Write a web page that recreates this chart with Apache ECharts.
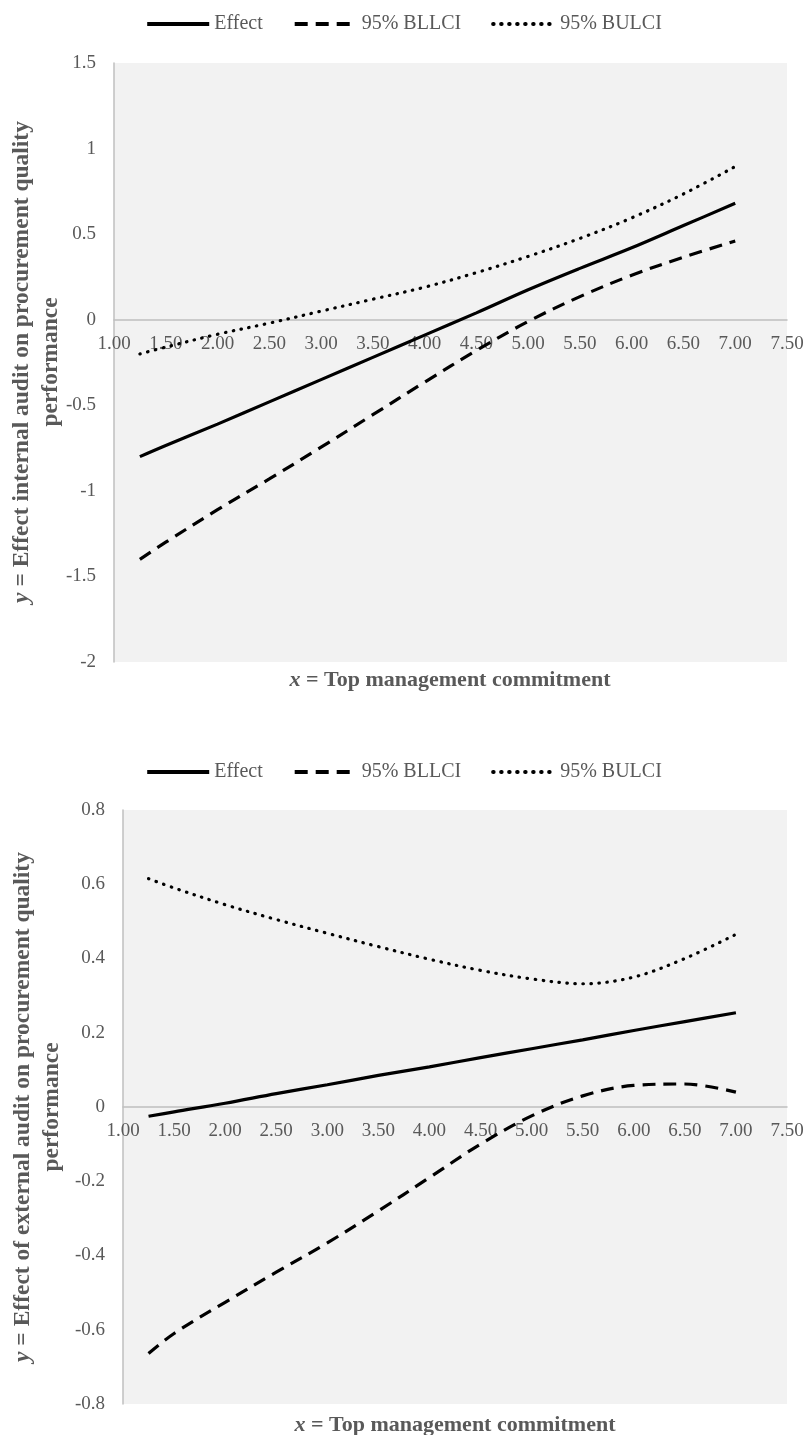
<!DOCTYPE html>
<html>
<head>
<meta charset="utf-8">
<script src="https://cdn.jsdelivr.net/npm/echarts@6/dist/echarts.min.js"></script>
<style>
html,body{margin:0;padding:0;background:#fff;}
#c{width:807px;height:1435px;}
</style>
</head>
<body>
<div id="c"></div>
<script>
// ---- data ----
const xs = [1.25, 1.5, 2.0, 2.5, 3.0, 3.5, 4.0, 4.5, 5.0, 5.5, 6.0, 6.5, 7.0];

// Chart 1: internal audit
const effect1 = [-0.80, -0.735, -0.61, -0.48, -0.35, -0.22, -0.09, 0.04, 0.175, 0.30, 0.42, 0.55, 0.68];
const lower1  = [-1.40, -1.30, -1.11, -0.93, -0.745, -0.555, -0.365, -0.18, -0.01, 0.135, 0.26, 0.365, 0.46];
const upper1  = [-0.20, -0.16, -0.085, -0.02, 0.05, 0.12, 0.19, 0.275, 0.37, 0.475, 0.595, 0.735, 0.895];

// Chart 2: external audit
const effect2 = [-0.025, -0.013, 0.010, 0.036, 0.060, 0.085, 0.108, 0.133, 0.157, 0.181, 0.206, 0.230, 0.254];
const lower2  = [-0.664, -0.61, -0.526, -0.445, -0.366, -0.28, -0.19, -0.10, -0.024, 0.030, 0.058, 0.062, 0.040];
const upper2  = [0.615, 0.59, 0.545, 0.505, 0.468, 0.432, 0.398, 0.368, 0.345, 0.332, 0.350, 0.400, 0.465];

// axis ranges / ticks
const xMin = 1, xMax = 7.5, xStep = 0.5;
const y1Min = -2, y1Max = 1.5, y1Step = 0.5;
const y2Min = -0.8, y2Max = 0.8, y2Step = 0.2;

const seriesNames = ['Effect', '95% BLLCI', '95% BULCI'];
const xTitle = 'x = Top management commitment';
const yTitle1 = ['y = Effect internal audit on procurement quality', 'performance'];
const yTitle2 = ['y = Effect of external audit on procurement quality', 'performance'];

// ---- styling ----
const FONT = '"Liberation Serif", "Times New Roman", serif';
const TXT = '#595959';
const AX = '#bfbfbf';

const grids = [
  { left: 114, top: 63, width: 673, height: 599 },
  { left: 123, top: 810, width: 664, height: 594 }
];

function pairs(ys) { return xs.map((x, i) => [x, ys[i]]); }

const lineStyles = [
  { color: '#000', width: 3.2, type: 'solid' },
  { color: '#000', width: 3.2, type: [13, 8], cap: 'butt' },
  { color: '#000', width: 3.2, type: [0.5, 7.5], cap: 'round' }
];

function mkSeries(idx, data) {
  return data.map((d, k) => ({
    name: seriesNames[k],
    type: 'line',
    xAxisIndex: idx,
    yAxisIndex: idx,
    data: pairs(d),
    symbol: 'none',
    smooth: 0.35,
    lineStyle: lineStyles[k],
    itemStyle: { color: '#000' },
    emphasis: { disabled: true },
    animation: false
  }));
}

// x axis placed on the y=0 line of its grid (offset derived from the y scale)
function mkX(idx, yMin, yMax) {
  const g = grids[idx];
  const zeroFromBottom = g.height * (0 - yMin) / (yMax - yMin);
  return {
    type: 'value', gridIndex: idx, min: xMin, max: xMax, interval: xStep,
    position: 'bottom',
    offset: -zeroFromBottom,
    axisLine: { show: true, onZero: false, lineStyle: { color: AX, width: 1.5 } },
    axisTick: { show: false },
    splitLine: { show: false },
    axisLabel: { color: TXT, fontFamily: FONT, fontSize: 19, margin: 15,
      formatter: v => v.toFixed(2) }
  };
}
function mkY(idx, min, max, interval) {
  return {
    type: 'value', gridIndex: idx, min: min, max: max, interval: interval,
    axisLine: { show: true, onZero: false, lineStyle: { color: AX, width: 1.5 } },
    axisTick: { show: false },
    splitLine: { show: false },
    axisLabel: { color: TXT, fontFamily: FONT, fontSize: 19, margin: 18,
      formatter: v => String(Math.round(v * 10) / 10) }
  };
}
function mkLegend(top) {
  return {
    top: top, left: 'center',
    data: seriesNames,
    itemWidth: 62, itemHeight: 14, itemGap: 30,
    selectedMode: false,
    itemStyle: { opacity: 0 },
    lineStyle: { width: 4 },
    textStyle: { color: TXT, fontFamily: FONT, fontSize: 20 }
  };
}
function titleText(x, y, text, rot) {
  return {
    type: 'text', x: x, y: y, rotation: rot || 0, silent: true,
    style: {
      text: text,
      font: 'bold 23.5px ' + FONT,
      fill: TXT,
      align: 'center', verticalAlign: 'middle',
      textAlign: 'center', textVerticalAlign: 'middle',
      lineHeight: 29,
      rich: {
        i: { font: 'italic bold 23.5px ' + FONT, fill: TXT, lineHeight: 29 },
        n: { font: 'bold 23.5px ' + FONT, fill: TXT, lineHeight: 29 }
      }
    }
  };
}
function xTitleText(x, y, text) {
  return {
    type: 'text', x: x, y: y, silent: true,
    style: {
      text: text,
      font: 'bold 22px ' + FONT,
      fill: TXT,
      align: 'center', verticalAlign: 'middle',
      textAlign: 'center', textVerticalAlign: 'middle',
      rich: {
        i: { font: 'italic bold 22px ' + FONT, fill: TXT },
        n: { font: 'bold 22px ' + FONT, fill: TXT }
      }
    }
  };
}
function richTitle(t) {
  return '{i|' + t.charAt(0) + '}{n|' + t.slice(1) + '}';
}

const chart = echarts.init(document.getElementById('c'), null, { renderer: 'canvas' });
chart.setOption({
  animation: false,
  backgroundColor: '#ffffff',
  legend: [mkLegend(9), mkLegend(757)],
  grid: grids.map(g => Object.assign({ show: true, backgroundColor: '#f2f2f2', borderWidth: 0 }, g)),
  xAxis: [mkX(0, y1Min, y1Max), mkX(1, y2Min, y2Max)],
  yAxis: [mkY(0, y1Min, y1Max, y1Step), mkY(1, y2Min, y2Max, y2Step)],
  series: [].concat(
    mkSeries(0, [effect1, lower1, upper1]),
    mkSeries(1, [effect2, lower2, upper2])
  ),
  graphic: [
    xTitleText(450, 680, richTitle(xTitle)),
    xTitleText(455, 1425, richTitle(xTitle)),
    titleText(36, 362, richTitle(yTitle1[0]) + '\n{n|' + yTitle1[1] + '}', Math.PI / 2),
    titleText(37, 1107, richTitle(yTitle2[0]) + '\n{n|' + yTitle2[1] + '}', Math.PI / 2)
  ]
});
</script>
</body>
</html>
